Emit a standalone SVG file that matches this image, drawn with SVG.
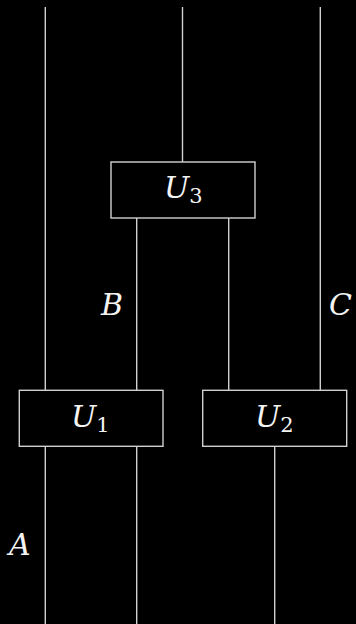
<svg xmlns="http://www.w3.org/2000/svg" width="356" height="624" viewBox="0 0 356 624">
<style>
.w{stroke:#d0d0d0;stroke-width:1.4;fill:none}
.b{stroke:#d0d0d0;stroke-width:1.4;fill:#000}
.t{font-style:italic;font-size:30px;fill:#f4f4f4}
.s{font-style:normal;font-size:21px;fill:#f4f4f4}
</style>
<rect width="356" height="624" fill="#000"/>
<g id="connectors">
<line class="w" x1="45.3" y1="7" x2="45.3" y2="390"/>
<line class="w" x1="45.3" y1="446" x2="45.3" y2="624"/>
<line class="w" x1="182.5" y1="7" x2="182.5" y2="162"/>
<line class="w" x1="320.3" y1="7" x2="320.3" y2="390"/>
<line class="w" x1="136.7" y1="218" x2="136.7" y2="390"/>
<line class="w" x1="136.7" y1="446" x2="136.7" y2="624"/>
<line class="w" x1="228.7" y1="218" x2="228.7" y2="390"/>
<line class="w" x1="274.7" y1="446" x2="274.7" y2="624"/>
</g>
<g font-family="DejaVu Serif, serif">
<g id="U3">
<rect class="b" x="111" y="162" width="144" height="56"/>
<text class="t" x="164" y="198" font-size="28">U<tspan class="s" dy="5" font-size="19">3</tspan></text>
</g>
<g id="U1">
<rect class="b" x="19.3" y="390.3" width="143.7" height="56"/>
<text class="t" x="71" y="427" font-size="28">U<tspan class="s" dy="5" font-size="19">1</tspan></text>
</g>
<g id="U2">
<rect class="b" x="202.7" y="390.3" width="144" height="56"/>
<text class="t" x="255" y="427" font-size="28">U<tspan class="s" dy="5" font-size="19">2</tspan></text>
</g>
<g id="labels">
<text class="t" x="101" y="315" font-size="28">B</text>
<text class="t" x="329" y="315" font-size="28">C</text>
<text class="t" x="9" y="555" font-size="28">A</text>
</g>
</g>
</svg>
